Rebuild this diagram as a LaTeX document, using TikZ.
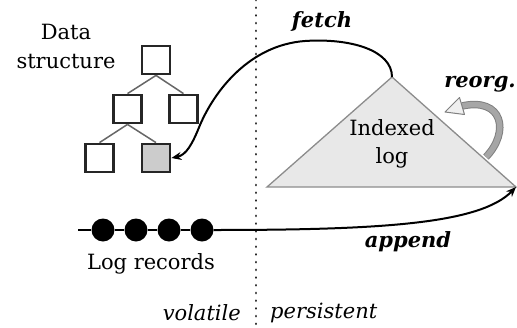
\documentclass[tikz,border=0pt]{standalone}
\usepackage{fontspec}
\setmainfont{DejaVu Serif}
\usetikzlibrary{arrows.meta}
\begin{document}
\begin{tikzpicture}[x=1pt,y=-1pt,
  box/.style={draw=black!85, line width=2.8pt, minimum size=28pt, inner sep=0pt, fill=white},
  lbl/.style={font=\fontsize{21}{29}\selectfont, inner sep=0pt},
  act/.style={font=\fontsize{21}{26}\selectfont\bfseries\itshape, inner sep=0pt},
  side/.style={font=\fontsize{21}{26}\selectfont\itshape, inner sep=0pt},
  rec/.style={circle, fill=black, minimum size=23pt, inner sep=0pt},
  tedge/.style={draw=black!60, line width=1.5pt},
  conn/.style={line width=2pt, -{Stealth[length=10pt,width=8pt]}}
]
\useasboundingbox (0,0) rectangle (517,327);

% divider
\coordinate (dtop) at (256,0);
\coordinate (dbot) at (256,327);
\draw[line width=2.8pt, dash pattern=on 0.01pt off 7.7pt, line cap=round, black!85] (dtop) -- (dbot);

% tree
\node[box] (r) at (156,60) {};
\node[box] (ml) at (127.5,109) {};
\node[box] (mr) at (183.5,109) {};
\node[box] (bl) at (99.5,158) {};
\node[box, fill=black!20] (br) at (156,158) {};
\draw[tedge] (r.south) -- (ml.north);
\draw[tedge] (r.south) -- (mr.north);
\draw[tedge] (ml.south) -- (bl.north);
\draw[tedge] (ml.south) -- (br.north);
\node[lbl, align=center] (ds) at (66,46) {Data\\structure};

% indexed log triangle
\coordinate (apex) at (392,77);
\coordinate (tr) at (516,187);
\coordinate (tl) at (267,187);
\draw[draw=black!45, fill=black!9, line width=1.3pt] (apex) -- (tr) -- (tl) -- cycle;
\node[lbl, align=center, font=\fontsize{21}{28}\selectfont] (il) at (392,144) {Indexed\\log};

% reorg arrow
\coordinate (rs) at (486,157);
\coordinate (rh) at (462,106);
\coordinate (rt) at (445,112);
\coordinate (rb1) at (464.5,114.5);
\coordinate (rb2) at (459.5,97.5);
\draw[draw=black!50, line width=1pt, double=black!35, double distance=5.5pt] (rs) .. controls (510,132) and (503,97) .. (rh);
\draw[draw=black!50, line width=1pt, fill=black!6, line join=round] (rt) -- (rb1) -- (rb2) -- cycle;
\node[act] (reorg) at (480,84) {reorg.};

% fetch
\draw[conn] (apex) .. controls (392,50) and (350,38) .. (305,41) .. controls (250,45) and (215,90) .. (200,125) .. controls (192,145) and (186,155) .. (br.east);
\node[act] (fetch) at (322,22) {fetch};

% log records
\coordinate (ls) at (78,230);
\node[rec] (d1) at (103,230) {};
\node[rec] (d2) at (136,230) {};
\node[rec] (d3) at (169,230) {};
\node[rec] (d4) at (202,230) {};
\draw[line width=2pt] (ls) -- (d1) (d1) -- (d2) (d2) -- (d3) (d3) -- (d4);
\draw[conn] (d4.east) .. controls (380,230) and (480,224) .. (tr);
\node[act] (append) at (408,242) {append};
\node[lbl] (lr) at (151,264) {Log records};

\node[side, anchor=east] (vol) at (241,313) {volatile};
\node[side, anchor=west] (per) at (270,313) {persistent};
\end{tikzpicture}
\end{document}
